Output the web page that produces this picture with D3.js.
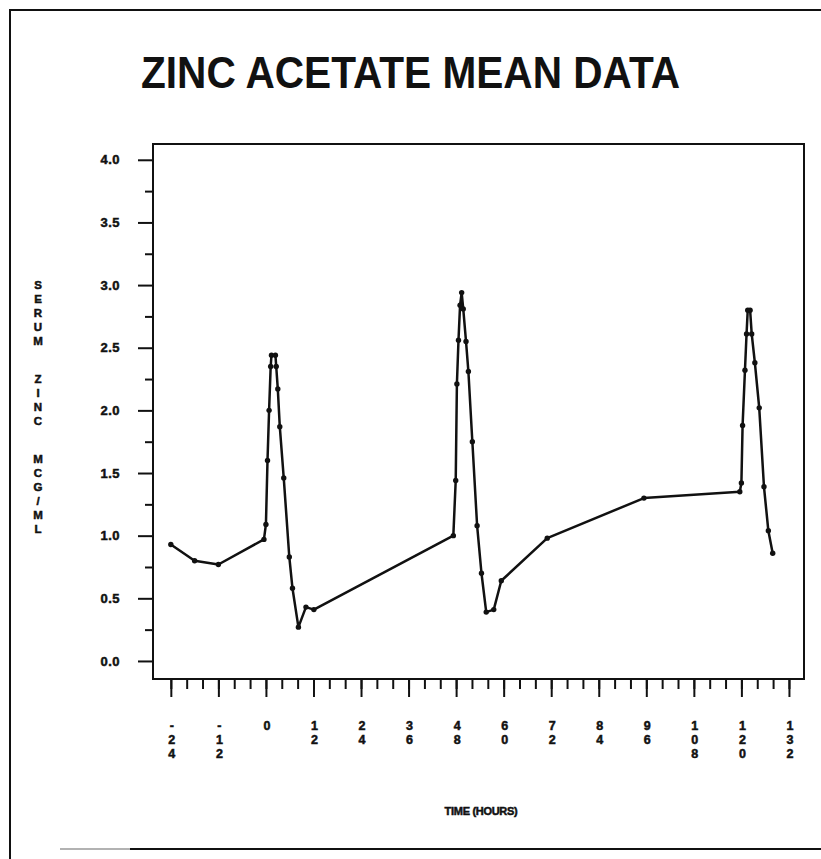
<!DOCTYPE html>
<html>
<head>
<meta charset="utf-8">
<script src="https://cdn.jsdelivr.net/npm/d3@7"></script>
<style>
  html, body { margin: 0; padding: 0; background: #fff; }
  svg { display: block; }
  text { font-family: "Liberation Sans", Arial, Helvetica, sans-serif; font-weight: bold; fill: #111; }
  .heavy { stroke: #111; stroke-width: 0.5px; }
</style>
</head>
<body>
<svg id="chart" width="821" height="859"></svg>
<script>
// Mean serum zinc after zinc acetate doses (hours relative to first dose)
const hours = [
  -24, -18, -12, -0.5, 0, 0.4, 0.8, 1.2, 1.4, 2.4, 2.6, 3.0, 3.5, 4.5, 5.9, 6.7, 8.2, 10.1, 12.1,
  47.3, 47.9, 48.2, 48.6, 49.0, 49.4, 49.8, 50.5, 51.1, 52.1, 53.3, 54.4, 55.6, 57.5, 59.4,
  71, 95.4,
  119.6, 120.0, 120.3, 120.9, 121.3, 121.6, 122.2, 122.6, 123.4, 124.5, 125.7, 126.8, 127.9
];
const serumZinc = [
  0.93, 0.80, 0.77, 0.97, 1.09, 1.60, 2.00, 2.35, 2.44, 2.44, 2.35, 2.17, 1.87, 1.46, 0.83, 0.58, 0.27, 0.43, 0.41,
  1.00, 1.44, 2.21, 2.56, 2.84, 2.94, 2.81, 2.55, 2.31, 1.75, 1.08, 0.70, 0.39, 0.41, 0.64,
  0.98, 1.30,
  1.35, 1.42, 1.88, 2.32, 2.61, 2.80, 2.80, 2.61, 2.38, 2.02, 1.39, 1.04, 0.86
];
const xMajorTicks = [-24, -12, 0, 12, 24, 36, 48, 60, 72, 84, 96, 108, 120, 132];
const xMinorTicks = d3.range(-24, 133, 4);
const yMajorTicks = [0, 0.5, 1.0, 1.5, 2.0, 2.5, 3.0, 3.5, 4.0];
const yMinorTicks = d3.range(0.25, 4, 0.5);
const titleText = "ZINC ACETATE MEAN DATA";
const yTitle = "SERUM ZINC MCG/ML";
const xTitle = "TIME (HOURS)";

const svg = d3.select("#chart");
const frame = { left: 153, right: 804, top: 144, bottom: 679 };

const x = d3.scaleLinear().domain([-28.5, 135.8]).range([frame.left, frame.right]);
const y = d3.scaleLinear().domain([-0.144, 4.126]).range([frame.bottom, frame.top]);

// page border
svg.append("path")
  .attr("d", "M10,859 L10,10 L821,10")
  .attr("fill", "none").attr("stroke", "#111").attr("stroke-width", 2);
svg.append("line").attr("x1", 60).attr("x2", 130).attr("y1", 849).attr("y2", 849)
  .attr("stroke", "#999").attr("stroke-width", 1.5);
svg.append("line").attr("x1", 130).attr("x2", 821).attr("y1", 849).attr("y2", 849)
  .attr("stroke", "#111").attr("stroke-width", 2);

// title
svg.append("text")
  .attr("x", 141).attr("y", 88)
  .attr("font-size", 44)
  .attr("textLength", 539).attr("lengthAdjust", "spacingAndGlyphs")
  .text(titleText);

// plot frame
svg.append("rect")
  .attr("x", frame.left).attr("y", frame.top)
  .attr("width", frame.right - frame.left).attr("height", frame.bottom - frame.top)
  .attr("fill", "none").attr("stroke", "#111").attr("stroke-width", 2);

// y axis ticks
const yAxisMajor = d3.axisLeft(y).tickValues(yMajorTicks).tickSize(15).tickPadding(18)
  .tickFormat(d3.format(".1f"));
const yAxisMinor = d3.axisLeft(y).tickValues(yMinorTicks).tickSize(8).tickFormat("");
const gyMin = svg.append("g").attr("transform", `translate(${frame.left},0)`).call(yAxisMinor);
const gy = svg.append("g").attr("transform", `translate(${frame.left},0)`).call(yAxisMajor);
[gy, gyMin].forEach(g => {
  g.select(".domain").remove();
  g.selectAll("line").attr("stroke", "#111").attr("stroke-width", 2);
});
gy.selectAll("text").attr("font-size", 13).attr("fill", "#111")
  .attr("letter-spacing", 0.5).attr("font-family", null).attr("class", "heavy");

// x axis ticks
const xAxisMajor = d3.axisBottom(x).tickValues(xMajorTicks).tickSize(18).tickFormat("");
const xAxisMinor = d3.axisBottom(x).tickValues(xMinorTicks).tickSize(10).tickFormat("");
const gxMin = svg.append("g").attr("transform", `translate(0,${frame.bottom})`).call(xAxisMinor);
const gx = svg.append("g").attr("transform", `translate(0,${frame.bottom})`).call(xAxisMajor);
[gx, gxMin].forEach(g => {
  g.select(".domain").remove();
  g.selectAll("line").attr("stroke", "#111").attr("stroke-width", 2);
});

// stacked (vertical) x tick labels
const xLab = svg.append("g");
xMajorTicks.forEach(t => {
  const chars = String(t).split("");
  chars.forEach((c, i) => {
    xLab.append("text")
      .attr("class", "heavy")
      .attr("x", x(t) + 1).attr("y", 730 + i * 14)
      .attr("text-anchor", "middle")
      .attr("font-size", 12.5)
      .text(c);
  });
});

// stacked y axis title
let yy = 289;
const yLab = svg.append("g");
yTitle.split("").forEach(c => {
  if (c === " ") { yy += 24; return; }
  yLab.append("text")
    .attr("class", "heavy")
    .attr("x", 38).attr("y", yy)
    .attr("text-anchor", "middle")
    .attr("font-size", 11.5)
    .text(c);
  yy += 14;
});

// x axis title
svg.append("text")
  .attr("class", "heavy")
  .attr("x", 481).attr("y", 815)
  .attr("text-anchor", "middle")
  .attr("font-size", 11)
  .attr("letter-spacing", -0.3)
  .text(xTitle);

// data line and markers
const pts = hours.map((h, i) => [h, serumZinc[i]]);
const line = d3.line().x(d => x(d[0])).y(d => y(d[1]));
svg.append("path")
  .datum(pts)
  .attr("d", line)
  .attr("fill", "none").attr("stroke", "#111")
  .attr("stroke-width", 2.5).attr("stroke-linejoin", "round");
svg.append("g").selectAll("circle")
  .data(pts).join("circle")
  .attr("cx", d => x(d[0])).attr("cy", d => y(d[1]))
  .attr("r", 2.7).attr("fill", "#111");
</script>
</body>
</html>
